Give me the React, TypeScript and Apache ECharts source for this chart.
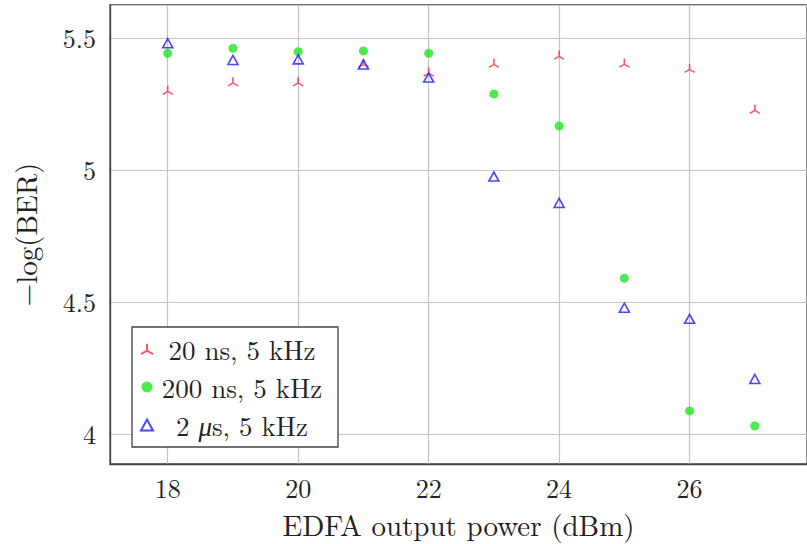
import React, { useEffect, useRef } from "react";
import * as echarts from "echarts";

const powers = [18, 19, 20, 21, 22, 23, 24, 25, 26, 27];
const ber20ns = [5.303, 5.335, 5.335, 5.405, 5.372, 5.405, 5.436, 5.406, 5.386, 5.231];
const ber200ns = [5.442, 5.461, 5.448, 5.451, 5.442, 5.288, 5.167, 4.59, 4.087, 4.03];
const ber2us = [5.48, 5.417, 5.419, 5.4, 5.35, 4.975, 4.875, 4.478, 4.436, 4.208];
const seriesNames = ["20 ns, 5 kHz", "200 ns, 5 kHz", "2 μs, 5 kHz"];

const FONT = "Latin Modern Roman";
const TRI_STAR = "path://M0,-10L0,0M0,0L-8.66,5M0,0L8.66,5";

const pairs = (ys: number[]) => powers.map((x, i) => [x, ys[i]]);

export default function App() {
  const ref = useRef<HTMLDivElement>(null);
  useEffect(() => {
    if (!ref.current) return;
    const chart = echarts.init(ref.current, null, { renderer: "svg" });
    chart.setOption({
      animation: false,
      backgroundColor: "#ffffff",
      textStyle: { fontFamily: FONT },
      grid: {
        left: 110,
        top: 5,
        width: 700,
        height: 459,
        show: true,
        borderColor: "#444",
        borderWidth: 1.3,
        containLabel: false,
      },
      xAxis: {
        type: "value",
        min: 17.115,
        max: 27.8,
        splitNumber: 5,
        name: "EDFA output power (dBm)",
        nameLocation: "middle",
        nameGap: 45,
        nameTextStyle: { fontFamily: FONT, fontSize: 29, color: "#222", lineHeight: 29 },
        axisLine: { show: true, lineStyle: { color: "#444", width: 1.3 } },
        axisTick: { show: false },
        axisLabel: {
          fontFamily: FONT,
          fontSize: 26,
          color: "#222",
          margin: 10,
          lineHeight: 26,
          showMinLabel: false,
          showMaxLabel: false,
          formatter: (v: number) => (Math.abs(v - Math.round(v)) < 1e-6 ? String(Math.round(v)) : ""),
        },
        splitLine: { show: true, lineStyle: { color: "#c4c4c4", width: 1.2 } },
      },
      yAxis: {
        type: "value",
        min: 3.886,
        max: 5.625,
        splitNumber: 4,
        name: "−log(BER)",
        nameLocation: "middle",
        nameGap: 71,
        nameTextStyle: { fontFamily: FONT, fontSize: 29, color: "#222" },
        axisLine: { show: true, lineStyle: { color: "#444", width: 1.3 } },
        axisTick: { show: false },
        axisLabel: {
          fontFamily: FONT,
          fontSize: 26,
          color: "#222",
          margin: 14,
          showMinLabel: false,
          showMaxLabel: false,
        },
        splitLine: { show: true, lineStyle: { color: "#c4c4c4", width: 1.2 } },
      },
      legend: {
        show: true,
        orient: "vertical",
        left: 132,
        top: 327,
        padding: [7, 12, 7, 8],
        itemGap: 8,
        itemWidth: 12,
        itemHeight: 11,
        backgroundColor: "#ffffff",
        borderColor: "#444",
        borderWidth: 1.3,
        borderRadius: 0,
        data: [
          { name: seriesNames[0], icon: TRI_STAR },
          { name: seriesNames[1], icon: "circle" },
          { name: seriesNames[2], icon: "triangle" },
        ],
        formatter: (name: string) => {
          if (name === seriesNames[2]) return "{a|2 }{i|μ}{a|s, 5 kHz}";
          return "{a|" + name + "}";
        },
        textStyle: {
          fontFamily: FONT,
          fontSize: 27,
          color: "#222",
          width: 168,
          lineHeight: 30,
          rich: {
            a: { fontFamily: FONT, fontSize: 27, color: "#222", align: "center", lineHeight: 30 },
            i: { fontFamily: FONT, fontSize: 27, color: "#222", fontStyle: "italic", align: "center", lineHeight: 30 },
          },
        },
      },
      series: [
        {
          name: seriesNames[0],
          type: "scatter",
          data: pairs(ber20ns),
          symbol: TRI_STAR,
          symbolSize: [10, 8.7],
          itemStyle: { color: "#ff2a3a", borderColor: "#ff2a3a", borderWidth: 1.5 },
          z: 3,
        },
        {
          name: seriesNames[1],
          type: "scatter",
          data: pairs(ber200ns),
          symbol: "circle",
          symbolSize: 9,
          itemStyle: { color: "#1ee61e" },
          z: 2,
        },
        {
          name: seriesNames[2],
          type: "scatter",
          data: pairs(ber2us),
          symbol: "triangle",
          symbolSize: [10, 9],
          itemStyle: { color: "rgba(255,255,255,0)", borderColor: "#1a1aff", borderWidth: 1.6 },
          z: 4,
        },
      ],
    });
    return () => chart.dispose();
  }, []);
  return <div ref={ref} style={{ width: 807, height: 544, position: "absolute", left: 0, top: 0 }} />;
}
